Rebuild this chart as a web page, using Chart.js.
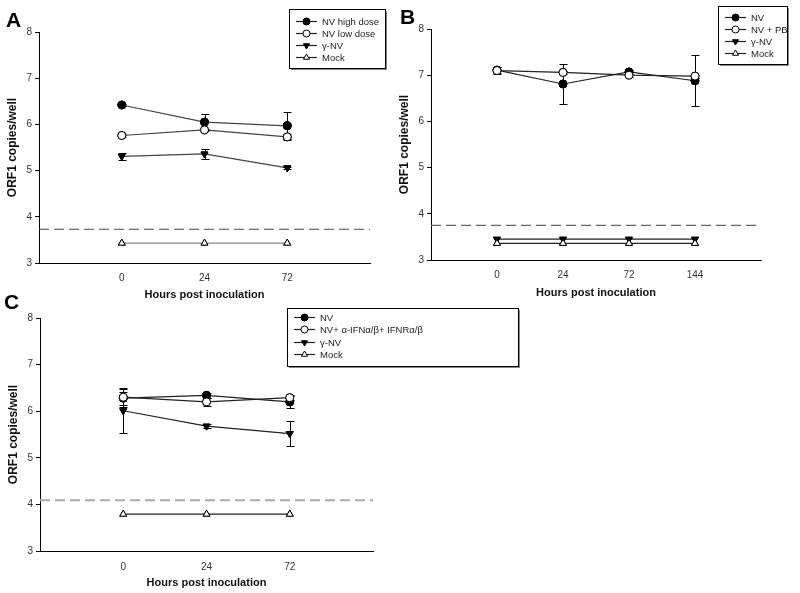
<!DOCTYPE html>
<html>
<head>
<meta charset="utf-8">
<script src="https://cdn.jsdelivr.net/npm/chart.js@4.4.1/dist/chart.umd.min.js"></script>
<style>
  html, body { margin: 0; padding: 0; background: #fff; }
  #wrap { position: relative; width: 800px; height: 593px; overflow: hidden; background: #fff; }
  canvas { position: absolute; left: 0; top: 0; }
  .plabel { position: absolute; font-family: "Liberation Sans", Arial, sans-serif; font-weight: bold; font-size: 21px; color: #000; line-height: 1; }
</style>
</head>
<body>
<div id="wrap">
  <canvas id="cA" width="800" height="593"></canvas>
  <canvas id="cB" width="800" height="593"></canvas>
  <canvas id="cC" width="800" height="593"></canvas>
  <div class="plabel" style="left:6px;top:9px;">A</div>
  <div class="plabel" style="left:400px;top:6px;">B</div>
  <div class="plabel" style="left:4px;top:291px;">C</div>
</div>
<script>
// ---------- DATA ----------
// Panel A
const hoursA = ['0', '24', '72'];
const nvHighA = [6.42, 6.05, 5.97];
const nvHighErrA = [0.03, 0.17, 0.29];
const nvLowA = [5.76, 5.88, 5.73];
const nvLowErrA = [0.04, 0.03, 0.07];
const gammaA = [5.31, 5.36, 5.06];
const gammaErrA = [0.08, 0.10, 0.02];
const mockA = [3.43, 3.43, 3.43];
const limitA = 3.73;

// Panel B
const hoursB = ['0', '24', '72', '144'];
const nvB = [7.11, 6.81, 7.07, 6.88];
const nvErrB = [0.06, 0.43, 0.04, 0.55];
const nvPbB = [7.10, 7.06, 7.00, 6.98];
const nvPbErrB = [0.07, 0.04, 0.03, 0.03];
const gammaB = [3.45, 3.45, 3.45, 3.45];
const mockB = [3.36, 3.36, 3.36, 3.36];
const limitB = 3.75;

// Panel C
const hoursC = ['0', '24', '72'];
const nvC = [6.28, 6.34, 6.20];
const nvErrC = [0.14, 0.06, 0.13];
const nvIfnC = [6.30, 6.20, 6.29];
const nvIfnErrC = [0.20, 0.08, 0.05];
const gammaC = [6.01, 5.68, 5.52];
const gammaErrC = [0.47, 0.05, 0.27];
const mockC = [3.79, 3.79, 3.79];
const limitC = 4.09;

const yTicks = [3, 4, 5, 6, 7, 8];

// ---------- HELPERS ----------
Chart.defaults.font.family = '"Liberation Sans", Arial, sans-serif';
Chart.defaults.color = '#333';

const FILLED_CIRCLE = { pointStyle: 'circle', bg: '#000', border: '#000', rot: 0 };
const OPEN_CIRCLE = { pointStyle: 'circle', bg: '#fff', border: '#000', rot: 0 };
const DOWN_TRI = { pointStyle: 'triangle', bg: '#000', border: '#000', rot: 180 };
const OPEN_TRI = { pointStyle: 'triangle', bg: '#fff', border: '#000', rot: 0 };

function pts(vals) { return vals.map((v, i) => ({ x: i + 1, y: v })); }

function series(label, vals, errs, mk, lineColor, radius) {
  return {
    label: label,
    data: pts(vals),
    errors: errs,
    borderColor: lineColor,
    borderWidth: 1.2,
    pointStyle: mk.pointStyle,
    pointRotation: mk.rot,
    pointBackgroundColor: mk.bg,
    pointBorderColor: mk.border,
    pointBorderWidth: 1,
    pointRadius: radius,
    tension: 0,
    fill: false,
    marker: mk
  };
}

function limitSeries(val, nCats, color, width, dash) {
  return {
    label: '_limit',
    data: [{ x: 0, y: val }, { x: nCats + 1, y: val }],
    borderColor: color,
    borderWidth: width,
    borderDash: dash,
    pointRadius: 0,
    fill: false,
    order: 10
  };
}

const errorBarPlugin = {
  id: 'errbars',
  afterDatasetsDraw(chart) {
    const ctx = chart.ctx;
    const ys = chart.scales.y;
    const xs = chart.scales.x;
    ctx.save();
    ctx.strokeStyle = '#000';
    ctx.lineWidth = 1;
    chart.data.datasets.forEach((ds) => {
      if (!ds.errors) return;
      ds.data.forEach((p, i) => {
        const e = ds.errors[i];
        if (!e) return;
        const px = Math.round(xs.getPixelForValue(p.x)) + 0.5;
        const yt = Math.round(ys.getPixelForValue(p.y + e)) + 0.5;
        const yb = Math.round(ys.getPixelForValue(p.y - e)) + 0.5;
        ctx.beginPath();
        ctx.moveTo(px, yt); ctx.lineTo(px, yb);
        ctx.moveTo(px - 4, yt); ctx.lineTo(px + 4, yt);
        ctx.moveTo(px - 4, yb); ctx.lineTo(px + 4, yb);
        ctx.stroke();
      });
    });
    ctx.restore();
  }
};

// redraw points on top of error bars
const pointsOnTopPlugin = {
  id: 'pointsTop',
  afterDatasetsDraw(chart) {
    const ctx = chart.ctx;
    chart.data.datasets.forEach((ds, di) => {
      if (!ds.marker) return;
      const meta = chart.getDatasetMeta(di);
      meta.data.forEach((el) => {
        ctx.save();
        ctx.fillStyle = ds.marker.bg;
        ctx.strokeStyle = ds.marker.border;
        ctx.lineWidth = 1;
        Chart.helpers.drawPoint(ctx, { pointStyle: ds.marker.pointStyle, radius: ds.pointRadius, rotation: ds.marker.rot, borderWidth: 1 }, el.x, el.y);
        ctx.restore();
      });
    });
  }
};

const boxLegendPlugin = {
  id: 'boxLegend',
  afterDraw(chart, args, opts) {
    const ctx = chart.ctx;
    const b = opts.box;
    ctx.save();
    // shadow
    ctx.fillStyle = '#888';
    ctx.fillRect(b.x + 2, b.y + b.h, b.w, 2);
    ctx.fillRect(b.x + b.w, b.y + 2, 2, b.h);
    ctx.fillStyle = '#fff';
    ctx.fillRect(b.x, b.y, b.w, b.h);
    ctx.strokeStyle = '#000';
    ctx.lineWidth = 1;
    ctx.strokeRect(b.x + 0.5, b.y + 0.5, b.w, b.h);
    const items = chart.data.datasets.filter(d => d.marker);
    items.forEach((ds, i) => {
      const y = Math.round(b.y + opts.firstRow + i * opts.rowGap) + 0.5;
      ctx.strokeStyle = '#222';
      ctx.lineWidth = 1.2;
      ctx.beginPath();
      ctx.moveTo(b.x + 7, y); ctx.lineTo(b.x + 28, y);
      ctx.stroke();
      ctx.fillStyle = ds.marker.bg;
      ctx.strokeStyle = ds.marker.border;
      ctx.lineWidth = 1;
      Chart.helpers.drawPoint(ctx, { pointStyle: ds.marker.pointStyle, radius: 3.5, rotation: ds.marker.rot, borderWidth: 1 }, b.x + 17.5, y);
      ctx.fillStyle = '#222';
      ctx.font = '9.5px "Liberation Sans", Arial, sans-serif';
      ctx.textBaseline = 'middle';
      ctx.textAlign = 'left';
      ctx.fillText(ds.label, b.x + 33, y + 0.5);
    });
    ctx.restore();
  }
};

function makeChart(id, cfg) {
  const nCats = cfg.labels.length;
  return new Chart(document.getElementById(id), {
    type: 'line',
    data: { datasets: cfg.datasets },
    plugins: [errorBarPlugin, pointsOnTopPlugin, boxLegendPlugin],
    options: {
      responsive: false,
      animation: false,
      devicePixelRatio: 1,
      layout: { padding: cfg.padding },
      plugins: {
        legend: { display: false },
        tooltip: { enabled: false },
        boxLegend: cfg.legend
      },
      scales: {
        x: {
          type: 'linear',
          min: 0,
          max: nCats + 1,
          afterFit(s) { s.height = cfg.xHeight; },
          afterBuildTicks(s) { s.ticks = cfg.labels.map((l, i) => ({ value: i + 1 })); },
          ticks: {
            autoSkip: false,
            padding: cfg.xTickPad,
            color: '#333',
            font: { size: 10 },
            maxRotation: 0,
            callback: (v) => cfg.labels[v - 1] ?? ''
          },
          grid: { display: false, drawTicks: false },
          border: { display: true, color: '#000', width: 1 },
          title: { display: true, text: 'Hours post inoculation', color: '#111', font: { size: 11, weight: 'bold' }, padding: 0 }
        },
        y: {
          min: 3,
          max: 8,
          afterFit(s) { s.width = cfg.yWidth; },
          afterBuildTicks(s) { s.ticks = yTicks.map(v => ({ value: v })); },
          ticks: { padding: 3, color: '#333', font: { size: 10 } },
          grid: { display: true, drawOnChartArea: false, drawTicks: true, tickLength: 4, color: '#000' },
          border: { display: true, color: '#000', width: 1 },
          title: { display: true, text: 'ORF1 copies/well', color: '#111', font: { size: 12, weight: 'bold' }, padding: 0 }
        }
      }
    }
  });
}

makeChart('cA', {
  labels: hoursA,
  padding: { left: 5, top: 32, right: 430, bottom: 291 },
  yWidth: 34, xHeight: 39, xTickPad: 9,
  legend: { box: { x: 289, y: 9, w: 96, h: 59 }, firstRow: 12, rowGap: 11.9 },
  datasets: [
    series('NV high dose', nvHighA, nvHighErrA, FILLED_CIRCLE, '#444', 4),
    series('NV low dose', nvLowA, nvLowErrA, OPEN_CIRCLE, '#444', 4),
    series('\u03B3-NV', gammaA, gammaErrA, DOWN_TRI, '#444', 4),
    series('Mock', mockA, null, OPEN_TRI, '#888', 4),
    limitSeries(limitA, hoursA.length, '#444', 1.2, [10, 5])
  ]
});

makeChart('cB', {
  labels: hoursB,
  padding: { left: 397, top: 29, right: 39, bottom: 293 },
  yWidth: 34, xHeight: 40, xTickPad: 9,
  legend: { box: { x: 718, y: 6, w: 69, h: 58 }, firstRow: 11, rowGap: 12 },
  datasets: [
    series('NV', nvB, nvErrB, FILLED_CIRCLE, '#222', 4),
    series('NV + PB', nvPbB, nvPbErrB, OPEN_CIRCLE, '#222', 4),
    series('\u03B3-NV', gammaB, null, DOWN_TRI, '#222', 4),
    series('Mock', mockB, null, OPEN_TRI, '#222', 4),
    limitSeries(limitB, hoursB.length, '#666', 1.2, [10, 5])
  ]
});

makeChart('cC', {
  labels: hoursC,
  padding: { left: 6, top: 318, right: 427, bottom: 3 },
  yWidth: 34, xHeight: 39, xTickPad: 10,
  legend: { box: { x: 287, y: 308, w: 231, h: 58 }, firstRow: 9, rowGap: 12.4 },
  datasets: [
    series('NV', nvC, nvErrC, FILLED_CIRCLE, '#222', 4),
    series('NV+ \u03B1-IFN\u03B1/\u03B2+ IFNR\u03B1/\u03B2', nvIfnC, nvIfnErrC, OPEN_CIRCLE, '#222', 4),
    series('\u03B3-NV', gammaC, gammaErrC, DOWN_TRI, '#222', 4),
    series('Mock', mockC, null, OPEN_TRI, '#222', 4),
    limitSeries(limitC, hoursC.length, '#aaa', 2, [10, 5])
  ]
});
</script>
</body>
</html>
